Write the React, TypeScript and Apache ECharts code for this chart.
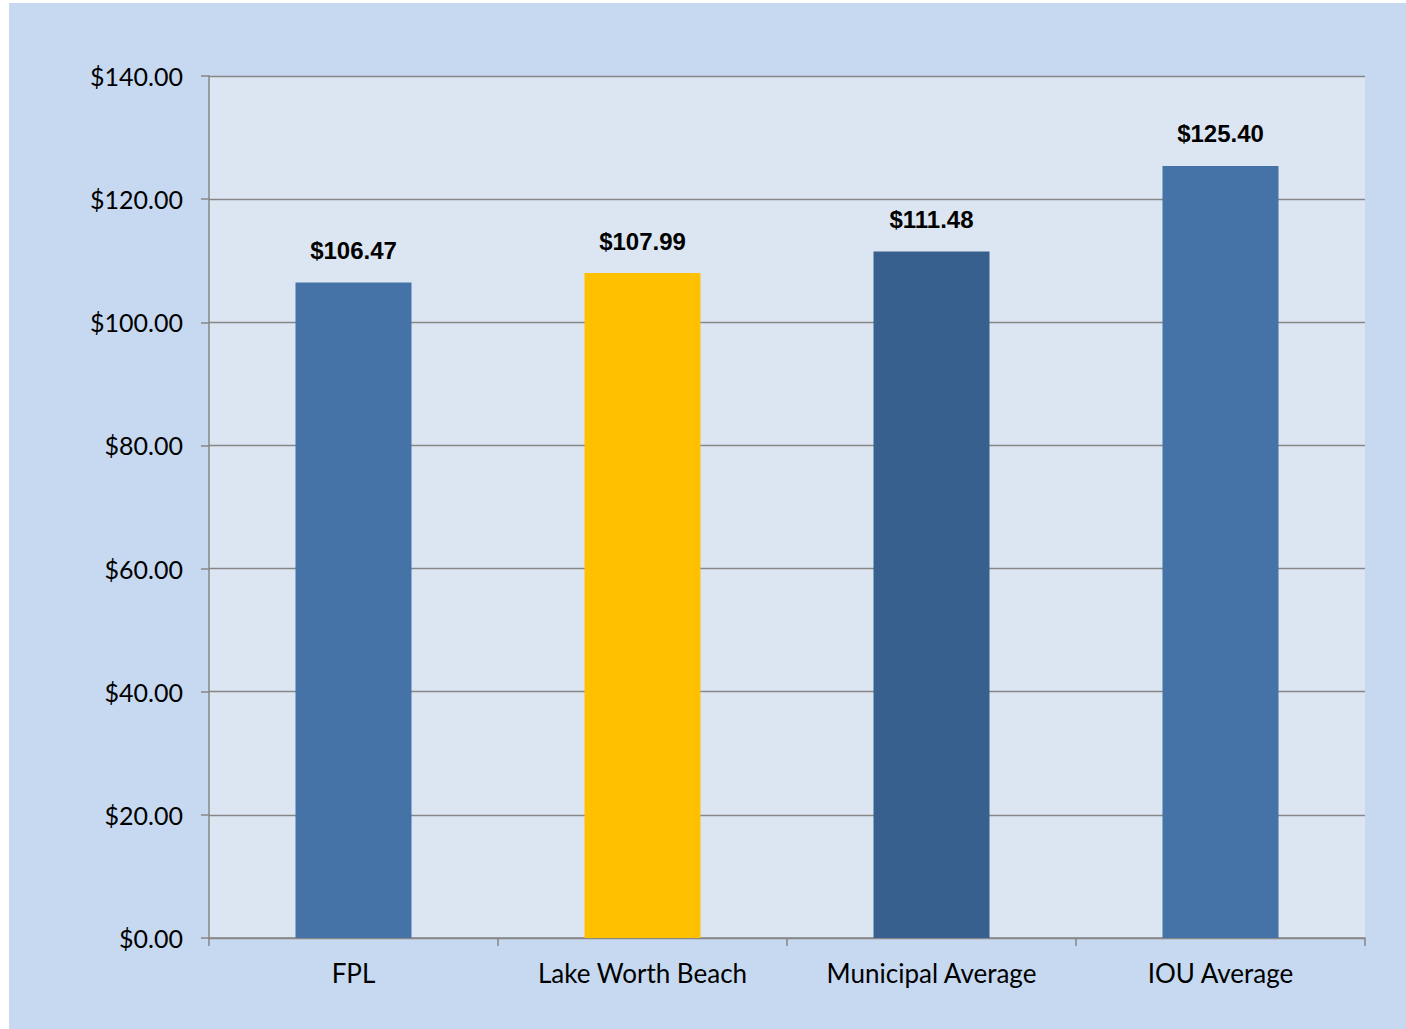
import React, { useEffect, useRef } from "react";
import * as echarts from "echarts";

const categories = ["FPL", "Lake Worth Beach", "Municipal Average", "IOU Average"];
const values = [106.47, 107.99, 111.48, 125.4];
const barColors = ["#4572a7", "#ffc000", "#37608f", "#4572a7"];
const yTicks = { min: 0, max: 140, interval: 20 };

export default function App() {
  const ref = useRef<HTMLDivElement>(null);
  useEffect(() => {
    if (!ref.current) return;
    const chart = echarts.init(ref.current, null, { renderer: "svg" });
    chart.setOption({
      animation: false,
      backgroundColor: "#c6d9f1",
      grid: { left: 200, top: 73, width: 1156, height: 862, show: true, backgroundColor: "#dce6f2", borderWidth: 0 },
      xAxis: {
        type: "category",
        data: categories,
        axisLine: { lineStyle: { color: "#868686", width: 1.5 } },
        axisTick: { show: true, length: 8, alignWithLabel: false, lineStyle: { color: "#868686", width: 1.5 } },
        axisLabel: { color: "#000", fontSize: 26, fontFamily: "Lato, 'Open Sans', sans-serif", margin: 22 },
      },
      yAxis: {
        type: "value",
        min: yTicks.min,
        max: yTicks.max,
        interval: yTicks.interval,
        axisLine: { show: true, lineStyle: { color: "#868686", width: 1.5 } },
        axisTick: { show: true, length: 8, lineStyle: { color: "#868686", width: 1.5 } },
        splitLine: { lineStyle: { color: "#868686", width: 1.3 } },
        axisLabel: {
          color: "#000",
          fontSize: 25,
          fontFamily: "Lato, 'Open Sans', sans-serif",
          margin: 26,
          formatter: (v: number) => "$" + v.toFixed(2),
        },
      },
      series: [
        {
          type: "bar",
          barWidth: 116,
          data: values.map((v, i) => ({ value: v, itemStyle: { color: barColors[i] } })),
          label: {
            show: true,
            position: "top",
            distance: 20,
            color: "#000",
            fontWeight: "bold",
            fontSize: 24,
            fontFamily: "'Liberation Sans Narrow', 'Arial Narrow', 'Liberation Sans', sans-serif",
            formatter: (p: any) => "$" + p.value.toFixed(2),
          },
        },
      ],
    });
    return () => chart.dispose();
  }, []);
  return (
    <div style={{ position: "fixed", left: 0, top: 0, width: 1406, height: 1029, background: "#fff" }}>
      <div ref={ref} style={{ position: "absolute", left: 9, top: 3, width: 1397, height: 1026 }} />
    </div>
  );
}
